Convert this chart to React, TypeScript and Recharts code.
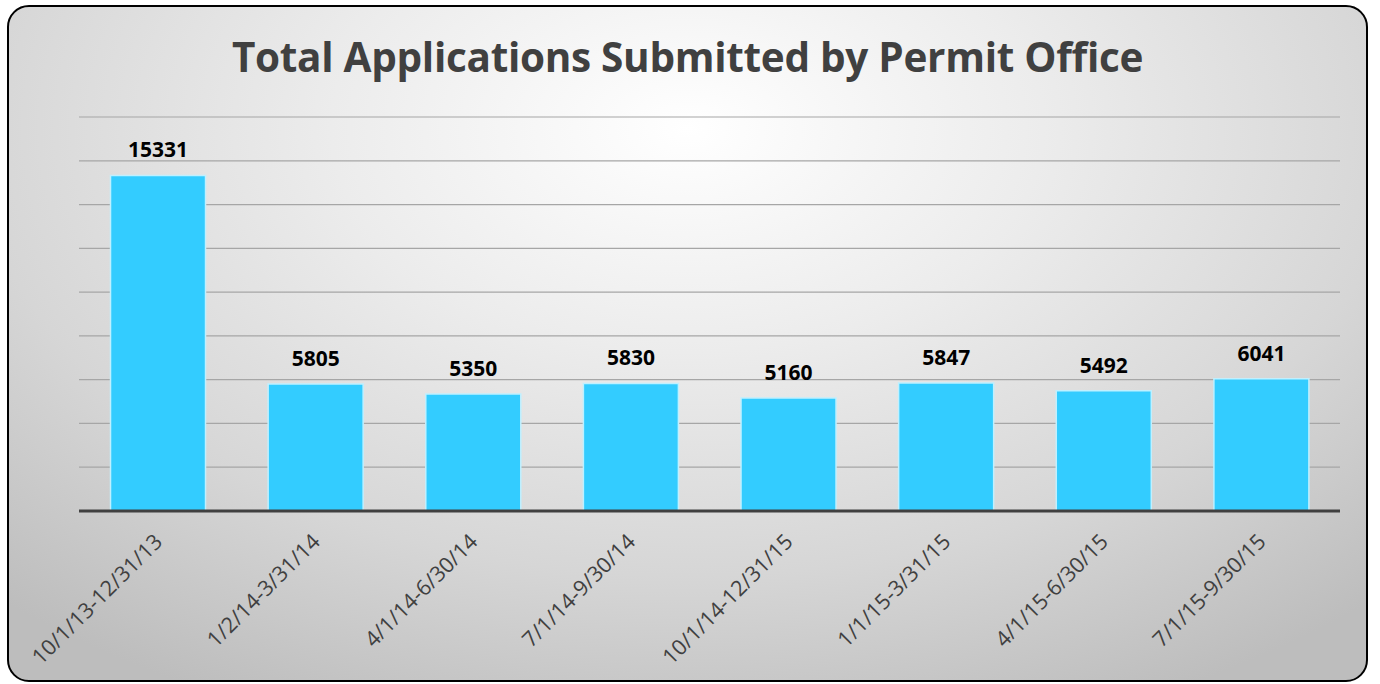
import React from 'react';
import { BarChart, Bar, XAxis, YAxis, CartesianGrid, LabelList } from 'recharts';

const periods = [
  '10/1/13-12/31/13',
  '1/2/14-3/31/14',
  '4/1/14-6/30/14',
  '7/1/14-9/30/14',
  '10/1/14-12/31/15',
  '1/1/15-3/31/15',
  '4/1/15-6/30/15',
  '7/1/15-9/30/15',
];
const applications = [15331, 5805, 5350, 5830, 5160, 5847, 5492, 6041];
const yTicks = [0, 2000, 4000, 6000, 8000, 10000, 12000, 14000, 16000, 18000];

const data = periods.map((period, i) => ({ period, applications: applications[i] }));

const FONT = '"Open Sans", "Noto Sans", sans-serif';

const SlantTick = (props: any) => {
  const { x, y, payload } = props;
  return (
    <g transform={`translate(${x + 6},${y + 24})`}>
      <text
        transform="rotate(-45)"
        textAnchor="end"
        fill="#404040"
        fontSize={21.5}
        fontFamily={FONT}
      >
        {payload.value}
      </text>
    </g>
  );
};

export default function App() {
  return (
    <div
      style={{
        position: 'absolute',
        left: 7,
        top: 5,
        width: 1361,
        height: 677,
        boxSizing: 'border-box',
        border: '2px solid #000',
        borderRadius: 22,
        overflow: 'hidden',
        background:
          'radial-gradient(ellipse 75% 95% at 50% 18%, #ffffff 0%, #ececec 35%, #d6d6d6 70%, #bdbdbd 100%)',
      }}
    >
      <div
        style={{
          position: 'absolute',
          left: 0,
          right: 0,
          top: 22,
          textAlign: 'center',
          fontFamily: FONT,
          fontWeight: 700,
          fontSize: 40.5,
          color: '#404040',
          letterSpacing: -0.3,
        }}
      >
        Total Applications Submitted by Permit Office
      </div>
      <BarChart
        width={1357}
        height={673}
        data={data}
        margin={{ top: 110, right: 26, bottom: 139, left: 70 }}
        barCategoryGap="20%"
      >
        <CartesianGrid vertical={false} stroke="#a6a6a6" strokeWidth={1.2} />
        <YAxis hide domain={[0, 18000]} ticks={yTicks} />
        <XAxis
          dataKey="period"
          interval={0}
          tickLine={false}
          axisLine={{ stroke: '#404040', strokeWidth: 3 }}
          tick={<SlantTick />}
        />
        <Bar
          dataKey="applications"
          fill="#33ccff"
          stroke="#bff0ff"
          strokeWidth={1.5}
          isAnimationActive={false}
        >
          <LabelList
            dataKey="applications"
            position="top"
            offset={18}
            fill="#000"
            fontSize={21}
            fontWeight={700}
            fontFamily={FONT}
          />
        </Bar>
      </BarChart>
    </div>
  );
}
